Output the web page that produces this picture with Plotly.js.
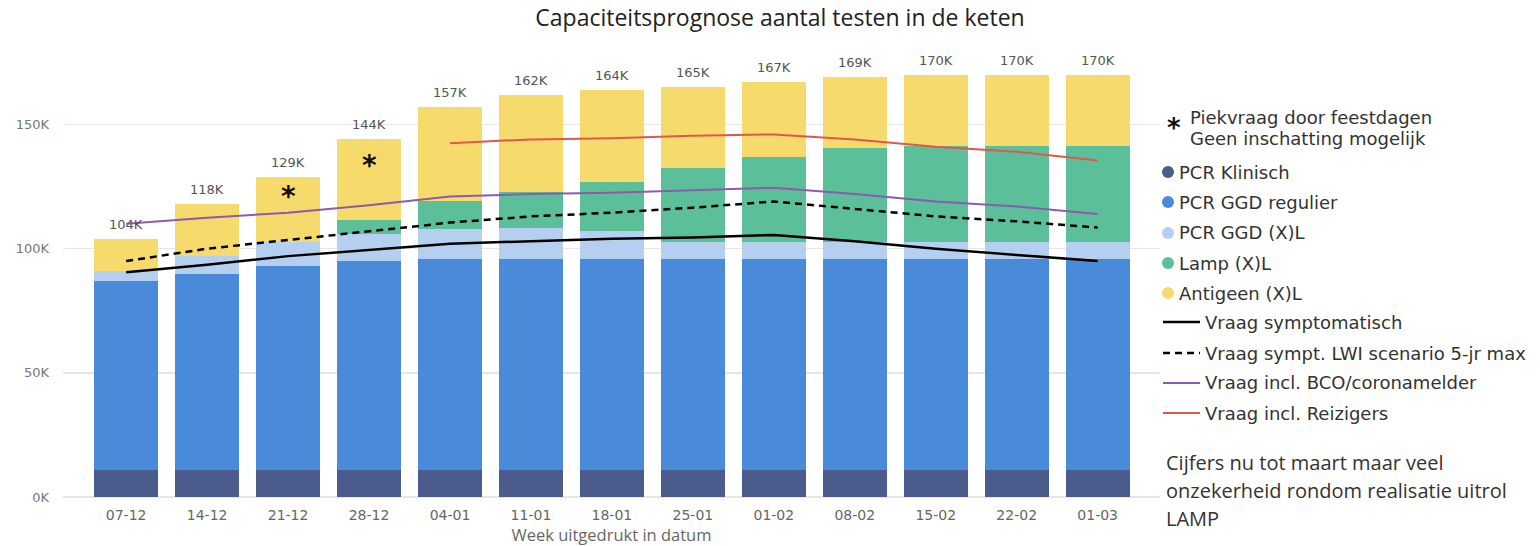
<!DOCTYPE html>
<html>
<head>
<meta charset="utf-8">
<script src="https://cdn.plot.ly/plotly-3.0.1.min.js"></script>
<style>html,body{margin:0;padding:0;background:#fff}#chart{width:1540px;height:546px}</style>
</head>
<body>
<div id="chart"></div>
<script>
// ---- data (values in thousands) ----
const weeks = ['07-12','14-12','21-12','28-12','04-01','11-01','18-01','25-01','01-02','08-02','15-02','22-02','01-03'];
const pcrKlinisch   = [11, 11, 11, 11, 11, 11, 11, 11, 11, 11, 11, 11, 11];
const pcrGgdRegulier= [76, 79, 82, 84, 85, 85, 85, 85, 85, 85, 85, 85, 85];
const pcrGgdXL      = [4, 7, 9.5, 11, 12, 12.5, 11, 6.5, 6.5, 6.5, 6.5, 6.5, 6.5];
const lampXL        = [0, 0, 0, 5.5, 11, 14.5, 20, 30, 34.5, 38, 39, 39, 39];
const antigeenXL    = [13, 21, 26.5, 32.5, 38, 39, 37, 32.5, 30, 28.5, 28.5, 28.5, 28.5];
const vraagSymp     = [90.5, 93.5, 97, 99.5, 102, 103, 104, 104.5, 105.5, 103, 100, 97.5, 95];
const vraagLWI      = [95, 100, 103.5, 107, 110.5, 113, 114.5, 116.5, 119, 116, 113, 111, 108.5];
const vraagBCO      = [110, 112.5, 114.5, 117.5, 121, 122, 122.5, 123.5, 124.5, 122, 119, 117, 114];
const vraagReiz     = [null, null, null, null, 142.5, 144, 144.5, 145.5, 146, 144, 141, 139, 135.5];
const starWeeks     = ['21-12', '28-12'];
const starValues    = [121, 133.5];
const yTickVals     = [0, 50, 100, 150];
const yTickText     = ['0K', '50K', '100K', '150K'];

const totals = weeks.map((w, i) => pcrKlinisch[i] + pcrGgdRegulier[i] + pcrGgdXL[i] + lampXL[i] + antigeenXL[i]);

const colors = {
  klin: '#4b5b8c', reg: '#4a8bd9', xl: '#b4cff0', lamp: '#5bbf9a', ag: '#f7da6c',
  symp: '#000000', lwi: '#000000', bco: '#8e5aae', reiz: '#e2574c'
};

function bar(name, y, color) {
  return {type: 'bar', name: name, x: weeks, y: y, marker: {color: color, line: {width: 0}}, showlegend: false};
}
function line(name, y, color, dash, width) {
  return {type: 'scatter', mode: 'lines', name: name, x: weeks, y: y,
          line: {color: color, width: width, dash: dash}, showlegend: false, connectgaps: false};
}

const traces = [
  bar('PCR Klinisch', pcrKlinisch, colors.klin),
  bar('PCR GGD regulier', pcrGgdRegulier, colors.reg),
  bar('PCR GGD (X)L', pcrGgdXL, colors.xl),
  bar('Lamp (X)L', lampXL, colors.lamp),
  bar('Antigeen (X)L', antigeenXL, colors.ag),
  line('Vraag symptomatisch', vraagSymp, colors.symp, 'solid', 2.5),
  line('Vraag sympt. LWI scenario 5-jr max', vraagLWI, colors.lwi, '7px,5px', 2.5),
  line('Vraag incl. BCO/coronamelder', vraagBCO, colors.bco, 'solid', 2),
  line('Vraag incl. Reizigers', vraagReiz, colors.reiz, 'solid', 2)
];

// plot area geometry in pixels (for paper-coordinate legend placement)
const L = 63, R = 1160, T = 50, B = 497;
const px = x => (x - L) / (R - L);
const py = y => (B - y) / (B - T);

const annotations = [];
const shapes = [];

// total labels above bars
weeks.forEach((w, i) => {
  annotations.push({x: w, y: totals[i], xref: 'x', yref: 'y', text: Math.round(totals[i]) + 'K',
    showarrow: false, yanchor: 'bottom', yshift: 5,
    font: {family: 'DejaVu Sans', size: 13, color: '#555'}});
});
// asterisks in bars
starWeeks.forEach((w, i) => {
  annotations.push({x: w, y: starValues[i], xref: 'x', yref: 'y', text: '<b>*</b>', showarrow: false,
    yanchor: 'middle', font: {family: 'DejaVu Sans', size: 28, color: '#111'}});
});

// custom legend
const legFont = {family: 'DejaVu Sans', size: 18, color: '#333'};
annotations.push({x: px(1174), y: py(128), xref: 'paper', yref: 'paper', text: '<b>*</b>', showarrow: false,
  xanchor: 'center', yanchor: 'middle', font: {family: 'DejaVu Sans', size: 26, color: '#111'}});
annotations.push({x: px(1188), y: py(118), xref: 'paper', yref: 'paper', text: 'Piekvraag door feestdagen',
  showarrow: false, xanchor: 'left', yanchor: 'middle', font: legFont});
annotations.push({x: px(1188), y: py(138), xref: 'paper', yref: 'paper', text: 'Geen inschatting mogelijk',
  showarrow: false, xanchor: 'left', yanchor: 'middle', font: legFont});

const barLegend = [
  ['PCR Klinisch', colors.klin, 172],
  ['PCR GGD regulier', colors.reg, 202],
  ['PCR GGD (X)L', colors.xl, 233],
  ['Lamp (X)L', colors.lamp, 263],
  ['Antigeen (X)L', colors.ag, 293]
];
barLegend.forEach(([name, c, y]) => {
  shapes.push({type: 'circle', xref: 'paper', yref: 'paper', x0: px(1162), x1: px(1174), y0: py(y + 6), y1: py(y - 6),
    fillcolor: c, line: {width: 0}});
  annotations.push({x: px(1177), y: py(y), xref: 'paper', yref: 'paper', text: name, showarrow: false,
    xanchor: 'left', yanchor: 'middle', font: legFont});
});
const lineLegend = [
  ['Vraag symptomatisch', colors.symp, 'solid', 2.5, 322],
  ['Vraag sympt. LWI scenario 5-jr max', colors.lwi, '7px,5px', 2.5, 353],
  ['Vraag incl. BCO/coronamelder', colors.bco, 'solid', 2, 383],
  ['Vraag incl. Reizigers', colors.reiz, 'solid', 2, 413]
];
lineLegend.forEach(([name, c, dash, w, y]) => {
  shapes.push({type: 'line', xref: 'paper', yref: 'paper', x0: px(1163), x1: px(1200), y0: py(y), y1: py(y),
    line: {color: c, width: w, dash: dash}});
  annotations.push({x: px(1203), y: py(y), xref: 'paper', yref: 'paper', text: name, showarrow: false,
    xanchor: 'left', yanchor: 'middle', font: legFont});
});

// note
const noteFont = {family: 'Open Sans', size: 20, color: '#333'};
[['Cijfers nu tot maart maar veel', 462], ['onzekerheid rondom realisatie uitrol', 490], ['LAMP', 518]].forEach(([t, y]) => {
  annotations.push({x: px(1164), y: py(y), xref: 'paper', yref: 'paper', text: t, showarrow: false,
    xanchor: 'left', yanchor: 'middle', font: noteFont});
});

const layout = {
  width: 1540, height: 546,
  margin: {l: L, r: 1540 - R, t: T, b: 546 - B, pad: 0},
  paper_bgcolor: '#fff', plot_bgcolor: '#fff',
  title: {text: 'Capaciteitsprognose aantal testen in de keten', x: 780 / 1540, xanchor: 'center',
          y: 1 - 18 / 546, yanchor: 'middle', font: {family: 'Open Sans', size: 23, color: '#222'}},
  barmode: 'stack', bargap: 0.21,
  showlegend: false, hovermode: false,
  xaxis: {type: 'category', range: [-0.78, 12.77], showgrid: false, showline: false, zeroline: false,
          ticks: '', tickfont: {family: 'DejaVu Sans', size: 14, color: '#666'}, ticklabelstandoff: 8,
          title: {text: 'Week uitgedrukt in datum', standoff: 6, font: {family: 'Open Sans', size: 16.5, color: '#666'}}},
  yaxis: {range: [0, 180], tickvals: yTickVals, ticktext: yTickText, showgrid: true, gridcolor: '#e6e6e6', gridwidth: 1.5,
          zeroline: true, zerolinecolor: '#e6e6e6', zerolinewidth: 1.5, showline: false, ticks: '',
          ticklabelstandoff: 13,
          tickfont: {family: 'DejaVu Sans', size: 13, color: '#777'}},
  annotations: annotations,
  shapes: shapes
};

Plotly.newPlot('chart', traces, layout, {displayModeBar: false, staticPlot: true});
</script>
</body>
</html>
